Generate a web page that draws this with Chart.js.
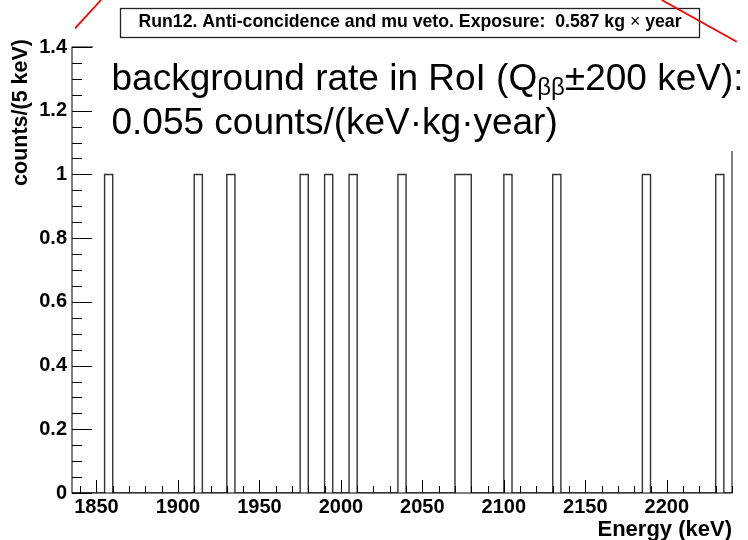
<!DOCTYPE html>
<html><head><meta charset="utf-8">
<script src="https://cdn.jsdelivr.net/npm/chart.js@4/dist/chart.umd.min.js"></script>
<style>html,body{margin:0;padding:0;background:#fff;overflow:hidden}canvas{display:block}</style>
</head><body>
<canvas id="c" width="748" height="540" style="width:748px;height:540px"></canvas>
<script>
// ---- data ----
const binWidth = 5;                 // keV per bin
const xRange = [1835, 2240];        // histogram range (keV)
const yRange = [0, 1.4];
const eventBinLowEdges = [1855, 1910, 1930, 1975, 1990, 2005, 2035, 2070, 2075, 2100, 2130, 2185, 2230];
const eventBinCounts   = [1, 1, 1, 1, 1, 1, 1, 1, 1, 1, 1, 1, 1];
const xTickValues = [1850, 1900, 1950, 2000, 2050, 2100, 2150, 2200];
const yTickValues = [0, 0.2, 0.4, 0.6, 0.8, 1, 1.2, 1.4];
const xMinorStep = 10;
const yMinorStep = 0.05;
const titleText = 'Run12. Anti-concidence and mu veto. Exposure:  0.587 kg \u00d7 year';
const xTitle = 'Energy (keV)';
const yTitle = 'counts/(5 keV)';
const noteLine1a = 'background rate in RoI (Q';
const noteLine1sub = '\u03b2\u03b2';
const noteLine1b = '\u00b1200 keV):';
const noteLine2 = '0.055 counts/(keV\u00b7kg\u00b7year)';

// ---- histogram outline points (bin edges) ----
const nBins = Math.round((xRange[1] - xRange[0]) / binWidth);
const counts = new Array(nBins).fill(0);
eventBinLowEdges.forEach((e, i) => { counts[Math.round((e - xRange[0]) / binWidth)] += eventBinCounts[i]; });
// point k sits on the upper edge of bin k-1 and carries that bin's height
const points = [{ x: xRange[0], y: 0 }].concat(counts.map((c, i) => ({ x: xRange[0] + (i + 1) * binWidth, y: c })));

const FAM = '"Liberation Sans", Arial, Helvetica, sans-serif';

const overlay = {
  id: 'overlay',
  afterDraw(chart) {
    const ctx = chart.ctx;
    const a = chart.chartArea;
    const xs = chart.scales.x, ys = chart.scales.y;
    ctx.save();
    // frame
    ctx.strokeStyle = '#000';
    ctx.lineWidth = 1;
    ctx.strokeRect(a.left, a.top, a.right - a.left, a.bottom - a.top);
    // x ticks (inside, pointing up)
    ctx.beginPath();
    for (let v = Math.ceil(xRange[0] / xMinorStep) * xMinorStep; v <= xRange[1] + 1e-9; v += xMinorStep) {
      const px = Math.round(xs.getPixelForValue(v)) + 0.5;
      const len = (v % 50 === 0) ? 13 : 7;
      ctx.moveTo(px, a.bottom);
      ctx.lineTo(px, a.bottom - len);
    }
    // y ticks (inside, pointing right)
    for (let k = 0; k * yMinorStep <= yRange[1] + 1e-9; k++) {
      const v = k * yMinorStep;
      const py = Math.round(ys.getPixelForValue(v)) + 0.5;
      const len = (k % 4 === 0) ? 20 : 10;
      ctx.moveTo(a.left, py);
      ctx.lineTo(a.left + len, py);
    }
    ctx.stroke();

    // white slide text box
    ctx.fillStyle = '#fff';
    ctx.fillRect(93, 40, 655, 111);

    // note text
    ctx.fillStyle = '#000';
    ctx.textAlign = 'left';
    ctx.textBaseline = 'alphabetic';
    ctx.font = '37px ' + FAM;
    let x = 111.5;
    ctx.fillText(noteLine1a, x, 89.5);
    x += ctx.measureText(noteLine1a).width;
    ctx.font = '24px ' + FAM;
    ctx.fillText(noteLine1sub, x, 95);
    x += ctx.measureText(noteLine1sub).width;
    ctx.font = '37px ' + FAM;
    ctx.fillText(noteLine1b, x, 89.5);
    ctx.fillText(noteLine2, 111.5, 133.5);

    // title box
    ctx.fillStyle = '#fff';
    ctx.fillRect(120.5, 8.5, 579, 29);
    ctx.strokeStyle = '#222';
    ctx.lineWidth = 1.3;
    ctx.strokeRect(120.5, 8.5, 579, 29);
    ctx.fillStyle = '#000';
    const parts = titleText.split('\u00d7');
    const fB = 'bold 17.7px ' + FAM, fN = '17.7px ' + FAM;
    ctx.font = fB; const w0 = ctx.measureText(parts[0]).width, w2 = ctx.measureText(parts[1]).width;
    ctx.font = fN; const w1 = ctx.measureText('\u00d7').width;
    let tx = 410 - (w0 + w1 + w2) / 2;
    ctx.textAlign = 'left';
    ctx.font = fB; ctx.fillText(parts[0], tx, 26.8); tx += w0;
    ctx.font = fN; ctx.fillText('\u00d7', tx, 26.8); tx += w1;
    ctx.font = fB; ctx.fillText(parts[1], tx, 26.8);

    // axis titles
    ctx.font = 'bold 22px ' + FAM;
    ctx.textAlign = 'right';
    ctx.fillText(xTitle, 732, 536);
    ctx.save();
    ctx.font = 'bold 21.5px ' + FAM;
    ctx.translate(27, 39);
    ctx.rotate(-Math.PI / 2);
    ctx.textAlign = 'right';
    ctx.fillText(yTitle, 0, 0);
    ctx.restore();

    // red pointer lines
    ctx.strokeStyle = '#ff0000';
    ctx.lineWidth = 1.8;
    ctx.beginPath();
    ctx.moveTo(75, 28.3); ctx.lineTo(101, 0);
    ctx.moveTo(661.7, 0); ctx.lineTo(736.7, 41.7);
    ctx.stroke();
    ctx.restore();
  }
};

new Chart(document.getElementById('c'), {
  type: 'line',
  data: {
    datasets: [{
      data: points,
      stepped: 'after',
      borderColor: '#333',
      borderWidth: 1.4,
      pointRadius: 0,
      fill: false,
      tension: 0
    }]
  },
  options: {
    responsive: false,
    animation: false,
    devicePixelRatio: 1,
    layout: { padding: { left: 0, top: 47, right: 16, bottom: 0 } },
    plugins: { legend: { display: false }, tooltip: { enabled: false } },
    scales: {
      x: {
        type: 'linear', min: xRange[0], max: xRange[1],
        afterFit(s) { s.height = 47; },
        afterBuildTicks(s) { s.ticks = xTickValues.map(v => ({ value: v })); },
        grid: { display: false, drawTicks: false },
        border: { display: false },
        ticks: {
          callback: v => String(v),
          font: { family: FAM, size: 20, weight: 'bold' },
          color: '#000', padding: 2, maxRotation: 0, autoSkip: false
        }
      },
      y: {
        type: 'linear', min: yRange[0], max: yRange[1],
        afterFit(s) { s.width = 72; },
        afterBuildTicks(s) { s.ticks = yTickValues.map(v => ({ value: v })); },
        grid: { display: false, drawTicks: false },
        border: { display: false },
        ticks: {
          callback: v => String(+Number(v).toFixed(1)),
          font: { family: FAM, size: 20, weight: 'bold' },
          color: '#000', padding: 5, autoSkip: false
        }
      }
    }
  },
  plugins: [overlay]
});
</script>
</body></html>
